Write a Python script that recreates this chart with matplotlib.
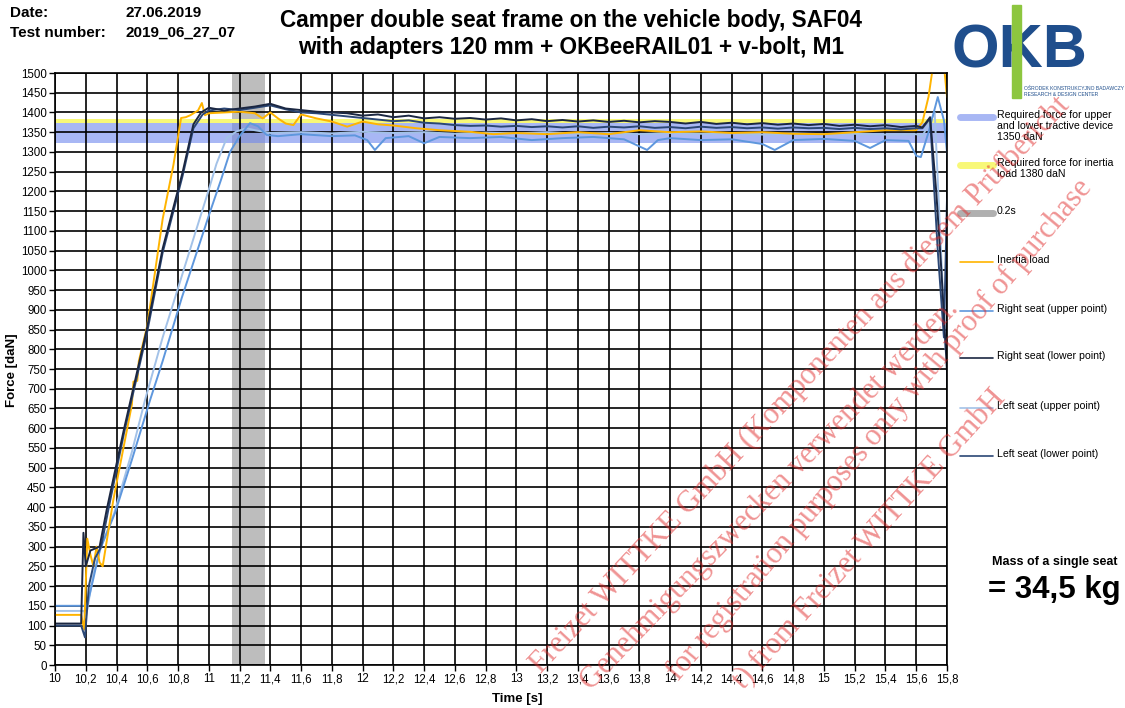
import numpy as np
import matplotlib
matplotlib.use("Agg")
import matplotlib.pyplot as plt
from matplotlib.lines import Line2D
from matplotlib.patches import Rectangle

plt.rcParams['font.family'] = ['Liberation Sans', 'DejaVu Sans']

# ---------------- data ----------------
title = "Camper double seat frame on the vehicle body, SAF04\nwith adapters 120 mm + OKBeeRAIL01 + v-bolt, M1"
x_ticks = [10.0, 10.2, 10.4, 10.6, 10.8, 11.0, 11.2, 11.4, 11.6, 11.8, 12.0, 12.2, 12.4, 12.6, 12.8,
           13.0, 13.2, 13.4, 13.6, 13.8, 14.0, 14.2, 14.4, 14.6, 14.8, 15.0, 15.2, 15.4, 15.6, 15.8]
x_labels = ["10", "10,2", "10,4", "10,6", "10,8", "11", "11,2", "11,4", "11,6", "11,8", "12", "12,2",
            "12,4", "12,6", "12,8", "13", "13,2", "13,4", "13,6", "13,8", "14", "14,2", "14,4", "14,6",
            "14,8", "15", "15,2", "15,4", "15,6", "15,8"]
y_ticks = list(range(0, 1501, 50))

req_tractive = 1350      # daN (band)
req_tractive_band = (1323, 1373)
req_inertia = 1380       # daN
req_inertia_band = (1374, 1384)
window_02s = (11.15, 11.365)

plateau_t = [11.0, 11.1, 11.2, 11.3, 11.4, 11.5, 11.6, 11.7, 11.8, 11.9, 12.0, 12.1, 12.2, 12.3, 12.4,
             12.5, 12.6, 12.7, 12.8, 12.9, 13.0, 13.1, 13.2, 13.3, 13.4, 13.5, 13.6, 13.7, 13.8, 13.9,
             14.0, 14.1, 14.2, 14.3, 14.4, 14.5, 14.6, 14.7, 14.8, 14.9, 15.0, 15.1, 15.2, 15.3, 15.4,
             15.5, 15.6]

inertia_t = [10.0, 10.17, 10.19, 10.21, 10.23, 10.25, 10.27, 10.29, 10.31, 10.345, 10.38, 10.45, 10.5,
             10.51, 10.535, 10.545, 10.6, 10.7, 10.77, 10.82, 10.85, 10.88, 10.93, 10.955, 10.975,
             11.0, 11.1, 11.2, 11.3, 11.35, 11.4, 11.45, 11.5, 11.55, 11.6, 11.7, 11.8, 11.9, 12.0,
             12.1, 12.2, 12.35, 12.5, 12.7, 12.85, 13.0, 13.2, 13.4, 13.6, 13.8, 14.0, 14.2, 14.4,
             14.6, 14.8, 15.0, 15.2, 15.4, 15.6, 15.64, 15.68, 15.71, 15.75, 15.78, 15.8]
inertia_F = [127, 127, 90, 320, 280, 250, 300, 260, 250, 335, 420, 560, 660,
             718, 720, 770, 860, 1130, 1267, 1386, 1388, 1393, 1405, 1424, 1393,
             1398, 1400, 1402, 1398, 1385, 1400, 1385, 1372, 1368, 1395, 1385, 1377, 1364, 1377,
             1370, 1367, 1360, 1355, 1351, 1345, 1348, 1345, 1350, 1345, 1355, 1350, 1352, 1348,
             1350, 1346, 1345, 1350, 1355, 1355, 1375, 1440, 1520, 1600, 1520, 1440]

right_lower_t = [10.0, 10.17, 10.185, 10.2, 10.23, 10.29, 10.336, 10.45, 10.596, 10.7, 10.83, 10.9,
                 10.95] + plateau_t + [15.64, 15.69, 15.73, 15.765, 15.805]
right_lower_F = [105, 105, 335, 250, 290, 300, 393, 600, 849, 1055, 1249, 1370, 1400,
                 1412, 1405, 1410, 1415, 1422, 1410, 1406, 1402, 1400, 1398, 1392, 1395, 1388, 1392,
                 1385, 1388, 1384, 1386, 1382, 1385, 1380, 1383, 1378, 1381, 1377, 1380, 1376, 1379,
                 1375, 1378, 1376, 1372, 1376, 1371, 1374, 1370, 1373, 1369, 1372, 1368, 1371, 1366,
                 1369, 1365, 1368, 1363, 1366,
                 1362, 1388, 1200, 990, 709]

left_lower_t = [10.0, 10.17, 10.195, 10.22, 10.26, 10.3, 10.35, 10.45, 10.6, 10.7, 10.83, 10.9,
                10.96] + plateau_t + [15.64, 15.69, 15.74, 15.78, 15.8]
left_lower_F = [100, 100, 70, 200, 270, 300, 400, 590, 845, 1045, 1240, 1360, 1395,
                1405, 1410, 1406, 1412, 1418, 1408, 1400, 1398, 1394, 1390, 1386, 1382, 1378, 1380,
                1374, 1372, 1368, 1366, 1367, 1364, 1366, 1363, 1365, 1362, 1365, 1361, 1364, 1362,
                1365, 1361, 1363, 1360, 1364, 1361, 1363, 1360, 1362, 1359, 1362, 1360, 1361, 1358,
                1361, 1358, 1360, 1357, 1360,
                1360, 1385, 1050, 830, 1180]

right_upper_t = [10.0, 10.19, 10.205, 10.25, 10.29, 10.39, 10.5, 10.618, 10.7, 10.824, 10.9, 11.008,
                 11.08, 11.138, 11.2, 11.268, 11.32, 11.376, 11.45, 11.6, 11.8, 11.95, 12.03, 12.08,
                 12.15, 12.3, 12.4, 12.5, 12.7, 12.9, 13.1, 13.3, 13.5, 13.7, 13.85, 13.92, 14.0,
                 14.2, 14.4, 14.6, 14.68, 14.8, 15.0, 15.2, 15.3, 15.4, 15.55, 15.6, 15.63, 15.68,
                 15.74, 15.78, 15.805]
right_upper_F = [150, 150, 145, 220, 290, 385, 520, 671, 770, 930, 1020, 1148,
                 1230, 1300, 1340, 1373, 1365, 1343, 1340, 1345, 1340, 1342, 1330, 1305,
                 1335, 1340, 1322, 1338, 1335, 1338, 1330, 1335, 1338, 1332, 1305, 1330, 1335,
                 1330, 1332, 1320, 1305, 1330, 1333, 1328, 1310, 1330, 1328, 1290, 1287, 1350,
                 1439, 1380, 1279]

left_upper_t = [10.0, 10.19, 10.2, 10.25, 10.3, 10.385, 10.5, 10.585, 10.7, 10.78, 10.9, 10.995,
                11.05, 11.116, 11.18, 11.246, 11.3, 11.4, 11.6, 11.8, 12.0, 12.2, 12.4, 12.6, 12.8,
                13.0, 13.2, 13.4, 13.6, 13.8, 14.0, 14.2, 14.4, 14.6, 14.8, 15.0, 15.2, 15.4, 15.6,
                15.64, 15.72, 15.79, 15.8]
left_upper_F = [137, 137, 120, 230, 300, 385, 540, 671, 830, 930, 1080, 1198,
                1270, 1335, 1352, 1360, 1355, 1348, 1350, 1347, 1351, 1348, 1350, 1346, 1349,
                1347, 1350, 1346, 1348, 1345, 1348, 1346, 1347, 1344, 1347, 1345, 1346, 1344, 1345,
                1340, 1400, 800, 830]

mass_text = "= 34,5 kg"

# ---------------- colours ----------------
c_inertia = '#ffb400'
c_ru = '#5e97dd'
c_rl = '#1b2742'
c_lu = '#a3c2e8'
c_ll = '#2b4775'
c_band_blue = '#6f87ee'
c_band_yellow = '#f8f878'
c_gray = '#bdbdbd'

W, H = 1125, 708
fig = plt.figure(figsize=(W / 100, H / 100), dpi=100)
ax = fig.add_axes([55 / W, 1 - 665 / H, (947 - 55) / W, (665 - 73) / H])

ax.axvspan(*window_02s, color=c_gray, lw=0, zorder=0.8)
ax.axhspan(*req_tractive_band, color=c_band_blue, alpha=0.6, lw=0, zorder=0.9)
ax.axhspan(*req_inertia_band, color=c_band_yellow, lw=0, zorder=0.95)

lw = 1.4
ax.plot(left_upper_t, left_upper_F, color=c_lu, lw=lw, zorder=2)
ax.plot(right_upper_t, right_upper_F, color=c_ru, lw=lw, zorder=2.1)
ax.plot(inertia_t, inertia_F, color=c_inertia, lw=lw, zorder=2.2)
ax.plot(left_lower_t, left_lower_F, color=c_ll, lw=lw, zorder=2.3)
ax.plot(right_lower_t, right_lower_F, color=c_rl, lw=lw, zorder=2.4)

ax.set_xlim(10, 15.8)
ax.set_ylim(0, 1500)
ax.set_xticks(x_ticks)
ax.set_xticklabels(x_labels)
ax.set_yticks(y_ticks)
ax.tick_params(labelsize=8.3, length=4, width=1, color='black', pad=2)
ax.grid(True, color='black', lw=1.2)
for s in ax.spines.values():
    s.set_color('black')
    s.set_linewidth(1.2)


def fx(x):
    return x / W


def fy(y):
    return 1 - y / H


# axis labels
fig.text(fx(12), fy(370), "Force [daN]", fontsize=9.5, fontweight='bold', rotation=90,
         ha='center', va='center')
fig.text(fx(517), fy(699), "Time [s]", fontsize=9.5, fontweight='bold', ha='center', va='center')

# header
fig.text(fx(10), fy(13), "Date:", fontsize=11, fontweight='bold', va='center')
fig.text(fx(125), fy(13), "27.06.2019", fontsize=11, fontweight='bold', va='center')
fig.text(fx(10), fy(33), "Test number:", fontsize=11, fontweight='bold', va='center')
fig.text(fx(125), fy(33), "2019_06_27_07", fontsize=11, fontweight='bold', va='center')
fig.text(fx(571), fy(34), title, fontsize=16.3, fontweight='bold', ha='center', va='center',
         linespacing=1.25)

# logo
fig.patches.append(Rectangle((fx(1012), fy(98)), 9 / W, 93 / H, transform=fig.transFigure,
                             color='#8dc63f', zorder=3))
fig.text(fx(1019), fy(52), "OKB", fontsize=44, fontweight='bold', color='#1f4e8c',
         ha='center', va='center', zorder=2)
fig.text(fx(1024), fy(88), "OŚRODEK KONSTRUKCYJNO BADAWCZY", fontsize=3.6, color='#1f4e8c',
         va='center')
fig.text(fx(1024), fy(95), "RESEARCH & DESIGN CENTER", fontsize=3.6, color='#1f4e8c', va='center')

# legend (manual)
legend_items = [
    (117, c_band_blue, 5, 0.6, "Required force for upper\nand lower tractive device\n1350 daN"),
    (165, c_band_yellow, 5, 1.0, "Required force for inertia\nload 1380 daN"),
    (213, '#b0b0b0', 5, 1.0, "0.2s"),
    (262, c_inertia, 1.2, 1.0, "Inertia load"),
    (311, c_ru, 1.2, 1.0, "Right seat (upper point)"),
    (358, c_rl, 1.2, 1.0, "Right seat (lower point)"),
    (408, c_lu, 1.2, 1.0, "Left seat (upper point)"),
    (456, c_ll, 1.2, 1.0, "Left seat (lower point)"),
]
for y, col, lwid, al, lab in legend_items:
    fig.add_artist(Line2D([fx(960), fx(993)], [fy(y), fy(y)], color=col, lw=lwid, alpha=al,
                          solid_capstyle='round', transform=fig.transFigure))
    fig.text(fx(997), fy(y - 7), lab, fontsize=7.6, va='top', ha='left', linespacing=1.15)

fig.text(fx(1055), fy(562), "Mass of a single seat", fontsize=9, fontweight='bold',
         ha='center', va='center')
fig.text(fx(988), fy(590), mass_text, fontsize=22.5, fontweight='bold', ha='left', va='center')

# watermark
wm = dict(color='#e02828', alpha=0.5, family=['Liberation Serif', 'DejaVu Serif'],
          fontsize=22, ha='center', va='center', rotation_mode='anchor')
fig.text(fx(800), fy(385), "Freizet WITTKE GmbH (Komponenten aus diesem Prüfbericht",
         rotation=47, **wm)
fig.text(fx(770), fy(495), "Genehmigungszwecken verwendet werden.", rotation=46, **wm)
fig.text(fx(880), fy(430), "for registration purposes only with proof of purchase",
         rotation=50, **wm)
fig.text(fx(870), fy(540), "t) from Freizet WITTKE GmbH", rotation=48, **wm)

fig.savefig("out.png", dpi=100)
